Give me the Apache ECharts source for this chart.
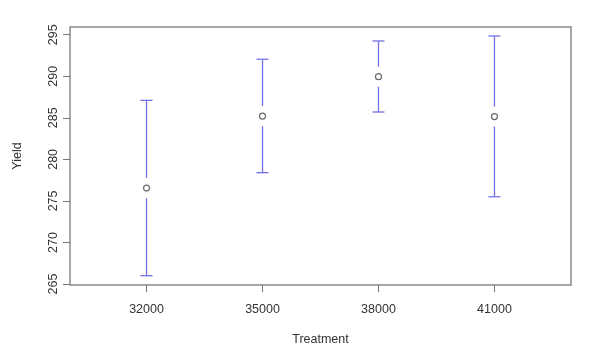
<!DOCTYPE html>
<html>
<head>
<meta charset="utf-8">
<script src="https://cdn.jsdelivr.net/npm/echarts@6/dist/echarts.min.js"></script>
<style>html,body{margin:0;padding:0;background:#fff}#c{width:600px;height:359px}</style>
</head>
<body>
<div id="c"></div>
<script>
var categories = ['32000', '35000', '38000', '41000'];
var means = [276.55, 285.2, 289.95, 285.15];
var lower = [266.0, 278.4, 285.7, 275.5];
var upper = [287.1, 292.05, 294.25, 294.85];
var yTicks = [265, 270, 275, 280, 285, 290, 295];

var positions = categories.map(function (c, i) { return i + 1; });
var barData = categories.map(function (c, i) { return [positions[i], means[i], lower[i], upper[i]]; });
var pointData = categories.map(function (c, i) { return [positions[i], means[i]]; });

var chart = echarts.init(document.getElementById('c'), null, {renderer: 'canvas'});
var font = 'Liberation Sans, Arial, sans-serif';
chart.setOption({
  animation: false,
  backgroundColor: '#fff',
  grid: {left: 70, right: 29, top: 27, bottom: 74, show: true, borderColor: '#8a8a8a', borderWidth: 1.5, backgroundColor: 'transparent'},
  xAxis: {
    type: 'value', min: 0.34, max: 4.66,
    name: 'Treatment', nameLocation: 'middle', nameGap: 48,
    nameTextStyle: {fontFamily: font, fontSize: 12.5, color: '#333'},
    axisLine: {show: false},
    splitLine: {show: false},
    axisTick: {show: true, length: 7, lineStyle: {color: '#777', width: 1}, customValues: positions},
    axisLabel: {fontFamily: font, fontSize: 12.5, color: '#333', margin: 18, customValues: positions,
      formatter: function (v) { return categories[Math.round(v) - 1] || ''; }}
  },
  yAxis: {
    type: 'value', min: 264.88, max: 295.93,
    name: 'Yield', nameLocation: 'middle', nameGap: 46, nameRotate: 90,
    nameTextStyle: {fontFamily: font, fontSize: 12.5, color: '#333'},
    axisLine: {show: false},
    splitLine: {show: false},
    axisTick: {show: true, length: 7, lineStyle: {color: '#777', width: 1}, customValues: yTicks},
    axisLabel: {fontFamily: font, fontSize: 12.5, color: '#333', rotate: 90, margin: 10, customValues: yTicks}
  },
  series: [
    {
      type: 'custom',
      data: barData,
      renderItem: function (params, api) {
        var x = api.value(0);
        var pm = api.coord([x, api.value(1)]);
        var pl = api.coord([x, api.value(2)]);
        var pu = api.coord([x, api.value(3)]);
        var gap = 10, cap = 6;
        var st = {stroke: '#7272e8', lineWidth: 1.3};
        return {type: 'group', children: [
          {type: 'line', shape: {x1: pu[0] - cap, y1: pu[1], x2: pu[0] + cap, y2: pu[1]}, style: st},
          {type: 'line', shape: {x1: pu[0], y1: pu[1], x2: pm[0], y2: pm[1] - gap}, style: st},
          {type: 'line', shape: {x1: pm[0], y1: pm[1] + gap, x2: pl[0], y2: pl[1]}, style: st},
          {type: 'line', shape: {x1: pl[0] - cap, y1: pl[1], x2: pl[0] + cap, y2: pl[1]}, style: st}
        ]};
      }
    },
    {
      type: 'scatter',
      data: pointData,
      symbol: 'circle', symbolSize: 6,
      itemStyle: {color: '#fff', borderColor: '#444', borderWidth: 1.2}
    }
  ]
});
</script>
</body>
</html>
